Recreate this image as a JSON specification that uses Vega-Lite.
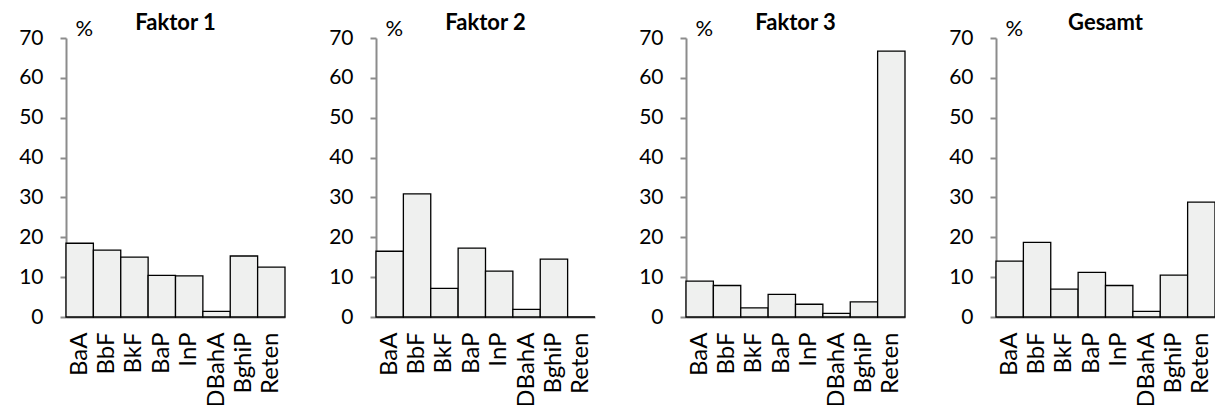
{
  "$schema": "https://vega.github.io/schema/vega-lite/v6.json",
  "padding": {"left": 18, "top": 12, "right": 0, "bottom": 0},
  "background": "white",
  "config": {
    "font": "Lato",
    "view": {"stroke": null},
    "axis": {"labelFont": "Lato", "titleFont": "Lato"}
  },
  "data": {"values": [
    {"panel": "Faktor 1", "cmp": "BaA", "pct": 18.5},
    {"panel": "Faktor 1", "cmp": "BbF", "pct": 16.8},
    {"panel": "Faktor 1", "cmp": "BkF", "pct": 15.0},
    {"panel": "Faktor 1", "cmp": "BaP", "pct": 10.45},
    {"panel": "Faktor 1", "cmp": "InP", "pct": 10.3},
    {"panel": "Faktor 1", "cmp": "DBahA", "pct": 1.4},
    {"panel": "Faktor 1", "cmp": "BghiP", "pct": 15.3},
    {"panel": "Faktor 1", "cmp": "Reten", "pct": 12.5},
    {"panel": "Faktor 2", "cmp": "BaA", "pct": 16.5},
    {"panel": "Faktor 2", "cmp": "BbF", "pct": 30.9},
    {"panel": "Faktor 2", "cmp": "BkF", "pct": 7.2},
    {"panel": "Faktor 2", "cmp": "BaP", "pct": 17.3},
    {"panel": "Faktor 2", "cmp": "InP", "pct": 11.5},
    {"panel": "Faktor 2", "cmp": "DBahA", "pct": 1.9},
    {"panel": "Faktor 2", "cmp": "BghiP", "pct": 14.5},
    {"panel": "Faktor 2", "cmp": "Reten", "pct": 0},
    {"panel": "Faktor 3", "cmp": "BaA", "pct": 9.0},
    {"panel": "Faktor 3", "cmp": "BbF", "pct": 7.9},
    {"panel": "Faktor 3", "cmp": "BkF", "pct": 2.3},
    {"panel": "Faktor 3", "cmp": "BaP", "pct": 5.7},
    {"panel": "Faktor 3", "cmp": "InP", "pct": 3.2},
    {"panel": "Faktor 3", "cmp": "DBahA", "pct": 0.9},
    {"panel": "Faktor 3", "cmp": "BghiP", "pct": 3.8},
    {"panel": "Faktor 3", "cmp": "Reten", "pct": 66.7},
    {"panel": "Gesamt", "cmp": "BaA", "pct": 14.0},
    {"panel": "Gesamt", "cmp": "BbF", "pct": 18.7},
    {"panel": "Gesamt", "cmp": "BkF", "pct": 7.0},
    {"panel": "Gesamt", "cmp": "BaP", "pct": 11.2},
    {"panel": "Gesamt", "cmp": "InP", "pct": 7.9},
    {"panel": "Gesamt", "cmp": "DBahA", "pct": 1.4},
    {"panel": "Gesamt", "cmp": "BghiP", "pct": 10.5},
    {"panel": "Gesamt", "cmp": "Reten", "pct": 28.8}
  ]},
  "facet": {
    "column": {
      "field": "panel", "type": "nominal",
      "sort": ["Faktor 1", "Faktor 2", "Faktor 3", "Gesamt"],
      "header": {"title": null, "labelFont": "Lato", "labelFontSize": 22, "labelFontWeight": "bold", "labelColor": "black", "labelPadding": -19, "labelBaseline": "bottom", "labelAlign": "center", "labelAnchor": "middle"}
    }
  },
  "spacing": 91,
  "bounds": "flush",
  "resolve": {"axis": {"y": "independent", "x": "independent"}},
  "spec": {
    "width": 219,
    "height": 279,
    "mark": {"type": "bar", "fill": "#eff0ef", "stroke": "black", "strokeWidth": 1.3},
    "encoding": {
      "x": {
        "field": "cmp", "type": "nominal",
        "sort": ["BaA", "BbF", "BkF", "BaP", "InP", "DBahA", "BghiP", "Reten"],
        "scale": {"paddingInner": 0, "paddingOuter": 0},
        "axis": {"title": null, "labelAngle": -90, "labelFontSize": 24, "labelColor": "black", "labelPadding": 15, "ticks": false, "domainColor": "#8c8c8c", "domainWidth": 2, "labelAlign": "right", "labelBaseline": "middle"}
      },
      "y": {
        "field": "pct", "type": "quantitative",
        "scale": {"domain": [0, 70], "nice": false},
        "axis": {"values": [0, 10, 20, 30, 40, 50, 60, 70], "grid": false, "labelFontSize": 21, "labelColor": "black", "labelPadding": 17, "tickSize": 6, "tickColor": "#8c8c8c", "tickWidth": 2, "domainColor": "#8c8c8c", "domainWidth": 2,
          "title": "%", "titleAngle": 0, "titleFontSize": 22, "titleFontWeight": "normal", "titleColor": "black", "titleX": 9, "titleY": -3, "titleAlign": "left", "titleBaseline": "alphabetic"}
      }
    }
  }
}
